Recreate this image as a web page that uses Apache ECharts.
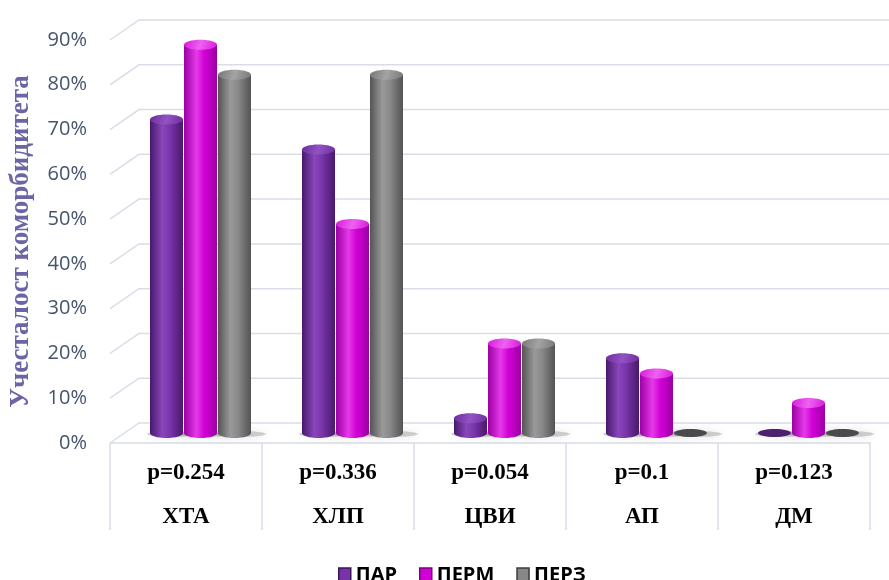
<!DOCTYPE html>
<html>
<head>
<meta charset="utf-8">
<script src="https://cdn.jsdelivr.net/npm/echarts@6/dist/echarts.min.js"></script>
<style>
  html, body { margin: 0; padding: 0; background: #ffffff; }
  #chart { width: 889px; height: 580px; }
</style>
</head>
<body>
<div id="chart"></div>
<script>
// Comorbidity frequency by group
const categories = ['ХТА', 'ХЛП', 'ЦВИ', 'АП', 'ДМ'];
const pValues = ['p=0.254', 'p=0.336', 'p=0.054', 'p=0.1', 'p=0.123'];
const seriesNames = ['ПАР', 'ПЕРМ', 'ПЕРЗ'];
const parValues = [70, 63.3, 3.3, 16.7, 0];
const permValues = [86.7, 46.7, 20, 13.3, 6.7];
const perzValues = [80, 80, 20, 0, 0];
const yTicks = [0, 10, 20, 30, 40, 50, 60, 70, 80, 90];

// pseudo-3D geometry (pixels)
const DEPTH_X = 29, DEPTH_Y = -20;      // full depth of the floor / back wall offset
const BAR_W = 33, BAR_STEP = 34, CAP_RY = 5;
const GRID_COLOR = '#d9dde8';

const palettes = [
  { dark: '#47196a', mid: '#7733a8', light: '#8a47bb', cap: '#6e2d9e', capLight: '#9152c2', flat: '#4c1f70', border: '#3a1458' },
  { dark: '#9c00a4', mid: '#d200d6', light: '#e43ae8', cap: '#d818dc', capLight: '#ee62f0', flat: '#98009e', border: '#7a0080' },
  { dark: '#545454', mid: '#878787', light: '#9a9a9a', cap: '#777777', capLight: '#a4a4a4', flat: '#4a4a4a', border: '#3c3c3c' }
];
const seriesValues = [parValues, permValues, perzValues];

const LG = echarts.graphic.LinearGradient;

function wallRenderer(params, api) {
  const cs = params.coordSys;
  const y = api.coord([0, api.value(1)])[1];
  const x0 = cs.x;
  return {
    type: 'polyline',
    shape: { points: [[x0, y], [x0 + DEPTH_X, y + DEPTH_Y], [x0 + cs.width + 80, y + DEPTH_Y]] },
    style: { stroke: GRID_COLOR, lineWidth: 1.5, fill: null },
    silent: true
  };
}

function barRenderer(sIdx) {
  const pal = palettes[sIdx];
  return function (params, api) {
    const cat = api.value(0), val = api.value(1);
    const base = api.coord([cat, 0]);
    const top = api.coord([cat, val]);
    const cx = base[0] + DEPTH_X / 2 + (sIdx - 1) * BAR_STEP;
    const yb = base[1] + DEPTH_Y / 2;
    const yt = top[1] + DEPTH_Y / 2;
    const rx = BAR_W / 2;
    const children = [];
    // soft contact shadow on the floor
    children.push({
      type: 'ellipse',
      shape: { cx: cx + 6, cy: yb + 1, rx: rx + 9, ry: 3 },
      style: { fill: 'rgba(60,60,60,0.22)', shadowBlur: 10, shadowColor: 'rgba(0,0,0,0.55)' },
      z2: 1
    });
    if (val > 0) {
      const bodyFill = new LG(0, 0, 1, 0, [
        { offset: 0, color: pal.dark },
        { offset: 0.38, color: pal.light },
        { offset: 0.62, color: pal.mid },
        { offset: 1, color: pal.dark }
      ]);
      children.push({
        type: 'ellipse',
        shape: { cx: cx, cy: yb, rx: rx, ry: CAP_RY },
        style: { fill: bodyFill },
        z2: 2
      });
      children.push({
        type: 'rect',
        shape: { x: cx - rx, y: yt, width: BAR_W, height: yb - yt },
        style: { fill: bodyFill },
        z2: 3
      });
      children.push({
        type: 'ellipse',
        shape: { cx: cx, cy: yt, rx: rx, ry: CAP_RY },
        style: {
          fill: new LG(0, 0, 1, 1, [
            { offset: 0, color: pal.cap },
            { offset: 0.5, color: pal.capLight },
            { offset: 1, color: pal.cap }
          ])
        },
        z2: 4
      });
    } else {
      children.push({
        type: 'ellipse',
        shape: { cx: cx, cy: yb, rx: rx, ry: CAP_RY - 1 },
        style: { fill: pal.flat },
        z2: 4
      });
    }
    return { type: 'group', children: children };
  };
}

const barSeries = seriesNames.map(function (name, sIdx) {
  return {
    name: name,
    type: 'custom',
    renderItem: barRenderer(sIdx),
    itemStyle: { color: palettes[sIdx].mid },
    data: categories.map(function (c, i) { return [i, seriesValues[sIdx][i]]; }),
    z: 3
  };
});

const option = {
  backgroundColor: '#ffffff',
  animation: false,
  grid: { left: 110, right: 19, top: 40, bottom: 137, containLabel: false, outerBoundsMode: 'none' },
  legend: {
    left: 333,
    top: 560,
    icon: 'rect',
    itemWidth: 12,
    itemHeight: 14,
    itemGap: 22,
    textStyle: { fontFamily: '"Liberation Sans Narrow", "Open Sans", sans-serif', fontWeight: 'bold', fontSize: 20, color: '#000000' },
    data: seriesNames.map(function (n, i) {
      return { name: n, itemStyle: { borderColor: palettes[i].border, borderWidth: 1.5 } };
    })
  },
  xAxis: {
    type: 'category',
    data: categories,
    boundaryGap: true,
    axisLine: { show: true, lineStyle: { color: GRID_COLOR, width: 1.5 } },
    axisTick: { show: true, length: 87, lineStyle: { color: GRID_COLOR, width: 1.5 } },
    axisLabel: {
      margin: 8,
      interval: 0,
      formatter: function (value, idx) { return '{p|' + pValues[idx] + '}\n{n|' + value + '}'; },
      rich: {
        p: { fontFamily: '"Liberation Serif", "Times New Roman", serif', fontWeight: 'bold', fontSize: 23, lineHeight: 44, color: '#000000' },
        n: { fontFamily: '"Liberation Serif", "Times New Roman", serif', fontWeight: 'bold', fontSize: 23, lineHeight: 44, color: '#000000' }
      }
    }
  },
  yAxis: {
    type: 'value',
    min: 0,
    max: 90,
    interval: 10,
    name: 'Учесталост коморбидитета',
    nameLocation: 'middle',
    nameRotate: 90,
    nameGap: 75,
    nameTextStyle: { fontFamily: '"Liberation Serif", "Times New Roman", serif', fontWeight: 'bold', fontSize: 27, color: '#6b64a6' },
    axisLine: { show: false },
    axisTick: { show: false },
    splitLine: { show: false },
    axisLabel: { margin: 23, formatter: '{value}%', fontFamily: '"Open Sans", sans-serif', fontSize: 20, color: '#44546a' }
  },
  series: [
    {
      name: 'walls',
      type: 'custom',
      renderItem: wallRenderer,
      data: yTicks.map(function (v) { return [0, v]; }),
      silent: true,
      z: 1
    }
  ].concat(barSeries)
};

const chart = echarts.init(document.getElementById('chart'));
chart.setOption(option);
</script>
</body>
</html>
